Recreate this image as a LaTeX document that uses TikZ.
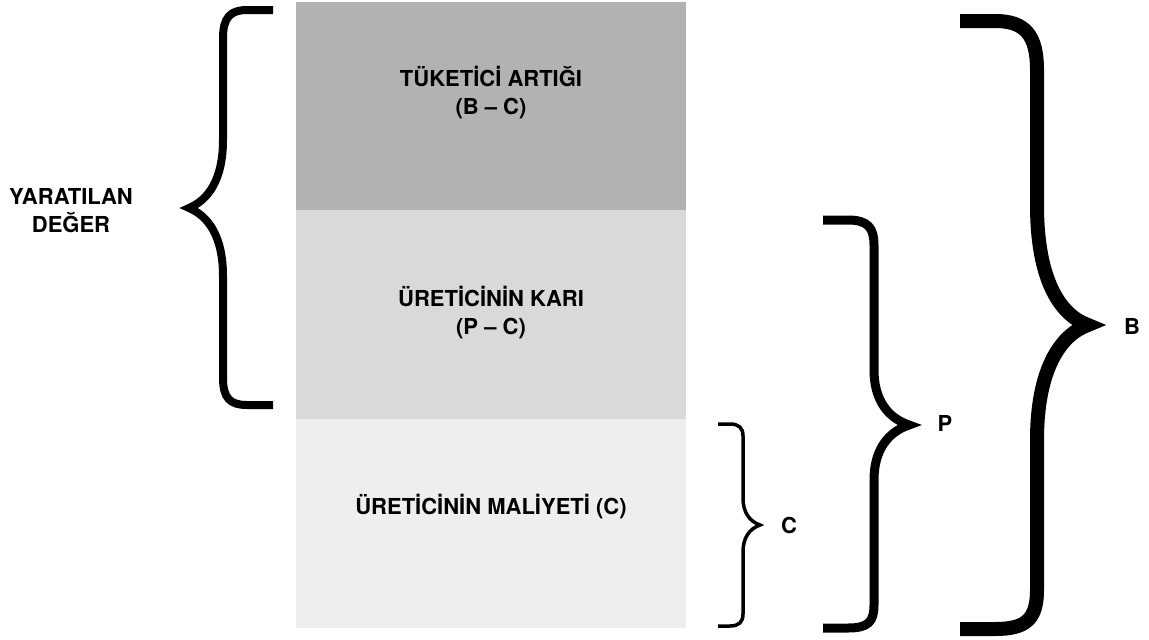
\documentclass[tikz,border=0pt]{standalone}
\usepackage{fontspec}
\setmainfont{TeX Gyre Heros}
\usepackage{tikz}

\tikzset{
        block/.style={draw=none, inner sep=0pt, minimum width=390pt},
        caption/.style={font=\fontsize{22}{28}\selectfont\bfseries, align=center, inner sep=0pt},
        bracket/.style={draw=black, line cap=butt, line join=miter, fill=none}
}

\begin{document}
\begin{tikzpicture}[x=1pt, y=-1pt]
        \useasboundingbox (0,0) rectangle (1149,640);
        \node (top) [block, fill={rgb,255:red,178;green,178;blue,178}, minimum height=208pt] at (491,106) {};
        \node (mid) [block, fill={rgb,255:red,217;green,217;blue,217}, minimum height=209pt] at (491,314.5) {};
        \node (bot) [block, fill={rgb,255:red,238;green,238;blue,238}, minimum height=209pt] at (491,523.5) {};
        \node (surplus) [caption] at (491,93) {TÜKETİCİ ARTIĞI\\(B – C)};
        \node (profit) [caption] at (491,313) {ÜRETİCİNİN KARI\\(P – C)};
        \node (cost) [caption] at (491,507) {ÜRETİCİNİN MALİYETİ (C)};
        \node (value) [caption] at (71,211) {YARATILAN\\DEĞER};
        \node (lc) [caption] at (789,525) {C};
        \node (lp) [caption] at (945,423) {P};
        \node (lb) [caption] at (1132,326) {B};
        % left brace
        \draw [bracket, line width=8pt] (273,10) -- (247,10) .. controls (230,10) and (223,18) .. (223,38)
                -- (223,140) .. controls (223,180) and (208,200) .. (189,208)
                .. controls (208,216) and (223,236) .. (223,276)
                -- (223,378) .. controls (223,398) and (230,405) .. (247,405) -- (273,405);
        % right braces
        \draw [bracket, line width=3.5pt] (718,424) -- (730,424) .. controls (739,424) and (743,428) .. (743,436)
                -- (743,498) .. controls (743,512) and (749,521) .. (760,525)
                .. controls (749,529) and (743,538) .. (743,552)
                -- (743,614) .. controls (743,622) and (739,626) .. (730,626) -- (718,626);
        \draw [bracket, line width=9pt] (823,220) -- (848,220) .. controls (868,220) and (874,228) .. (874,245)
                -- (874,370) .. controls (874,400) and (888,418) .. (909,425)
                .. controls (888,432) and (874,450) .. (874,480)
                -- (874,605) .. controls (874,622) and (868,628) .. (848,628) -- (823,628);
        \draw [bracket, line width=14pt] (960,21) -- (995,21) .. controls (1025,21) and (1037,35) .. (1037,70)
                -- (1037,205) .. controls (1037,280) and (1060,315) .. (1088,325)
                .. controls (1060,335) and (1037,370) .. (1037,440)
                -- (1037,590) .. controls (1037,620) and (1025,629) .. (995,629) -- (960,629);
\end{tikzpicture}
\end{document}
